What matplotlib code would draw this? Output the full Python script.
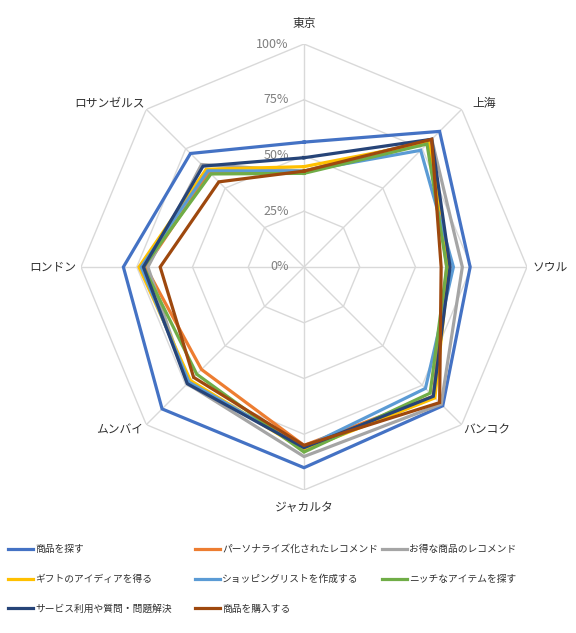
import numpy as np
import matplotlib
matplotlib.use("Agg")
import matplotlib.pyplot as plt

plt.rcParams['font.family'] = ['Noto Sans CJK JP', 'DejaVu Sans']

# data (percent)
cities = ['東京', '上海', 'ソウル', 'バンコク', 'ジャカルタ', 'ムンバイ', 'ロンドン', 'ロサンゼルス']
series_names = ['商品を探す', 'パーソナライズ化されたレコメンド', 'お得な商品のレコメンド',
                'ギフトのアイディアを得る', 'ショッピングリストを作成する', 'ニッチなアイテムを探す',
                'サービス利用や質問・問題解決', '商品を購入する']
find_items   = [56, 86, 74.5, 88, 90, 90, 81, 72]
personalized = [43, 80, 64, 82, 80, 65, 71, 60]
deals        = [43, 81, 71, 87, 85, 74, 70, 65]
gift_ideas   = [45, 79, 65, 83, 82, 72, 74, 62]
shop_list    = [43, 74, 67, 77, 81, 73, 73, 61]
niche_items  = [42, 78, 64, 80, 83, 68, 72, 59]
service_help = [49, 81, 65.5, 82, 81, 74, 72, 64]
purchase     = [43, 81, 61.5, 86, 80, 70, 64.5, 54]
all_series = [find_items, personalized, deals, gift_ideas,
              shop_list, niche_items, service_help, purchase]
colors = ['#4472C4', '#ED7D31', '#A5A5A5', '#FFC000',
          '#5B9BD5', '#70AD47', '#264478', '#9E480E']
r_ticks = [0, 25, 50, 75, 100]

W, H = 576, 633
fig = plt.figure(figsize=(W / 100, H / 100), dpi=100)
cx, cy, R = 304, 267, 223
ax = fig.add_axes([(cx - R) / W, (H - cy - R) / H, 2 * R / W, 2 * R / H], projection='polar')
ax.set_theta_zero_location('N')
ax.set_theta_direction(-1)
ax.set_ylim(0, 100)
ax.grid(False)
ax.set_xticks([])
ax.set_yticks([])
ax.spines['polar'].set_visible(False)
ax.patch.set_alpha(0)

n = len(cities)
angles = np.arange(n) * 2 * np.pi / n
closed = np.append(angles, angles[0])

# octagon grid + spokes
grid_c = '#D9D9D9'
for t in r_ticks[1:]:
    ax.plot(closed, [t] * (n + 1), color=grid_c, lw=1.0, zorder=1)
for a in angles:
    ax.plot([a, a], [0, 100], color=grid_c, lw=1.0, zorder=1)

# radial tick labels along the top spoke
for t in r_ticks:
    ax.annotate(f'{t}%', xy=(0, t), xytext=(-11, 0), textcoords='offset points',
                ha='right', va='center', fontsize=9, color='#7F7F7F', zorder=2)

# series
handles = []
for vals, name, c in zip(all_series, series_names, colors):
    v = np.append(vals, vals[0])
    ln, = ax.plot(closed, v, color=c, lw=2.3, solid_joinstyle='miter', zorder=3, label=name)
    handles.append(ln)

# category labels (angle in degrees clockwise from north, radius in %)
label_pos = [(0, 109), (47.8, 109), (90, 110.3), (131.7, 110), (180, 107.6),
             (228.5, 110.2), (270, 112.6), (310.1, 114.3)]
for (deg, lr), name in zip(label_pos, cities):
    ax.text(np.deg2rad(deg), lr, name, ha='center', va='center', fontsize=8.5, color='#303030')

# legend, three columns laid out row by row like the original
col_x = [8, 195, 382]
for k, x in enumerate(col_x):
    idx = list(range(k, len(series_names), 3))
    leg = fig.legend([handles[i] for i in idx], [series_names[i] for i in idx],
                     loc='upper left', bbox_to_anchor=(x / W, 1 - 544 / H),
                     frameon=False, fontsize=7, handlelength=2.6, handletextpad=0.2,
                     labelspacing=2.05, borderpad=0, borderaxespad=0)
    for txt in leg.get_texts():
        txt.set_color('#303030')

fig.savefig('out.png', dpi=100)
